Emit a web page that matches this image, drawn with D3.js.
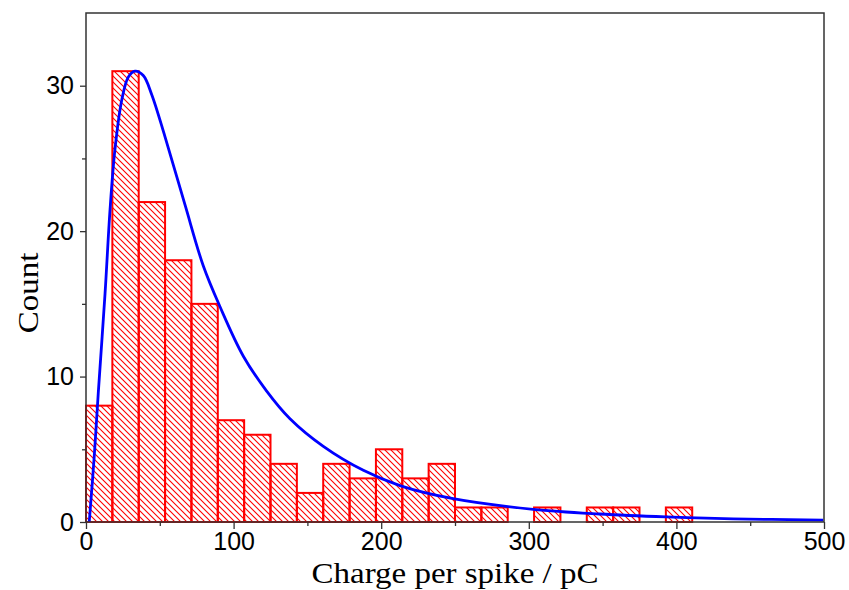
<!DOCTYPE html>
<html>
<head>
<meta charset="utf-8">
<script src="https://cdn.jsdelivr.net/npm/d3@7"></script>
<style>
    body { margin: 0; background: #fff; }
    svg { display: block; }
</style>
</head>
<body>
<script>

// histogram counts, 28 equal bins over 0 - 500 pC
var xMax = 500;
var counts = [8, 31, 22, 18, 15, 7, 6, 4, 2, 4, 3, 5, 3, 4, 1, 1, 0, 1, 0, 1, 1, 0, 1, 0, 0, 0, 0, 0];

// fitted curve [charge, count]
var fitX = [2.2, 5.5, 8.3, 12.9, 16.3, 19.6, 24.2, 28.7, 33.2, 38.8, 44.5, 53.5, 67.1, 79.5, 90.8, 106.6,
    122.4, 138.2, 160.8, 187.9, 212.7, 248.8, 303, 348, 393, 438.5, 499.5];
var fitY = [0, 4.4, 8.85, 15.7, 21.5, 25.6, 29.0, 30.6, 31.0, 30.7, 29.4, 26.5, 21.8, 17.6, 14.8, 11.4,
    9.0, 7.1, 5.2, 3.55, 2.5, 1.6, 0.87, 0.55, 0.35, 0.22, 0.13];

var xTicks = [0, 100, 200, 300, 400, 500];
var xMinor = [50, 150, 250, 350, 450];
var yTicks = [0, 10, 20, 30];
var yMinor = [5, 15, 25];

var xLabel = 'Charge per spike / pC';
var yLabel = 'Count';


// --------------------------------------------------
// Init
// --------------------------------------------------

var svg = d3.select('body').append('svg')
    .attr('width', 849)
    .attr('height', 590);

var margin = { top: 13, right: 25, bottom: 68, left: 86 };
var width = svg.attr('width') - margin.left - margin.right;
var height = svg.attr('height') - margin.top - margin.bottom;

var g = svg.append('g')
    .attr('transform', 'translate(' + margin.left + ',' + margin.top + ')');

var x = d3.scaleLinear().domain([0, xMax]).range([0, width]);
var y = d3.scaleLinear().domain([0, 35]).range([height, 0]);

// hatch pattern
var defs = svg.append('defs');
defs.append('pattern')
    .attr('id', 'hatch')
    .attr('patternUnits', 'userSpaceOnUse')
    .attr('width', 6)
    .attr('height', 6)
    .append('path')
    .attr('d', 'M0,0L6,6M-1,5L1,7M5,-1L7,1')
    .attr('stroke', '#ff0000')
    .attr('stroke-width', 1.1);

// --------------------------------------------------
// Bars
// --------------------------------------------------

var bw = xMax / counts.length;
var bins = counts.map((c, i) => ({ x0: i * bw, x1: (i + 1) * bw, n: c })).filter(d => d.n > 0);

g.selectAll('.bar')
    .data(bins)
    .enter().append('rect')
    .attr('class', 'bar')
    .attr('x', d => x(d.x0))
    .attr('y', d => y(d.n))
    .attr('width', d => x(d.x1) - x(d.x0))
    .attr('height', d => height - y(d.n))
    .attr('fill', 'url(#hatch)')
    .attr('stroke', '#ff0000')
    .attr('stroke-width', 2);

// --------------------------------------------------
// Fit curve
// --------------------------------------------------

var line = d3.line()
    .x((d, i) => x(fitX[i]))
    .y(d => y(d))
    .curve(d3.curveCatmullRom.alpha(0.5));

g.append('path')
    .datum(fitY)
    .attr('d', line)
    .attr('fill', 'none')
    .attr('stroke', '#0000ff')
    .attr('stroke-width', 2.8);

// --------------------------------------------------
// Axes
// --------------------------------------------------

var xAxis = g.append('g')
    .attr('transform', 'translate(0,' + height + ')')
    .call(d3.axisBottom(x).tickValues(xTicks).tickSize(7).tickPadding(3));

g.append('g')
    .attr('transform', 'translate(0,' + height + ')')
    .call(d3.axisBottom(x).tickValues(xMinor).tickSize(4).tickFormat(''));

var yAxis = g.append('g')
    .call(d3.axisLeft(y).tickValues(yTicks).tickSize(6).tickPadding(6));

g.append('g')
    .call(d3.axisLeft(y).tickValues(yMinor).tickSize(4).tickFormat(''));

g.selectAll('.domain').remove();
g.selectAll('.tick line').attr('stroke', '#333').attr('stroke-width', 1.3);

g.selectAll('.tick text')
    .attr('fill', '#000')
    .style('font-family', 'Arial, "Liberation Sans", sans-serif')
    .style('font-size', '25px');

// frame
g.append('rect')
    .attr('width', width)
    .attr('height', height)
    .attr('fill', 'none')
    .attr('stroke', '#333')
    .attr('stroke-width', 1.5);

// titles (the original font is a bit wide, so stretch along the text)
svg.append('text')
    .attr('transform', 'translate(' + (margin.left + width / 2) + ',583) scale(1.1,1)')
    .attr('text-anchor', 'middle')
    .style('font-family', '"Times New Roman", "Liberation Serif", serif')
    .style('font-size', '30px')
    .text(xLabel);

svg.append('text')
    .attr('transform', 'translate(38,293) rotate(-90) scale(1.1,1)')
    .attr('text-anchor', 'middle')
    .style('font-family', '"Times New Roman", "Liberation Serif", serif')
    .style('font-size', '30px')
    .text(yLabel);

</script>
</body>
</html>
